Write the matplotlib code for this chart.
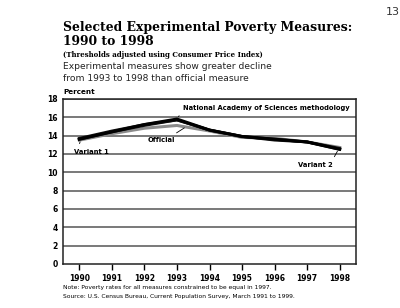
import matplotlib
matplotlib.use("Agg")
from matplotlib import pyplot as plt

# data (percent)
years = [1990, 1991, 1992, 1993, 1994, 1995, 1996, 1997, 1998]
official = [13.5, 14.2, 14.8, 15.1, 14.5, 13.8, 13.7, 13.3, 12.7]
nas = [13.6, 14.4, 15.2, 15.8, 14.6, 13.9, 13.6, 13.3, 12.5]
variant1 = [13.7, 14.5, 15.2, 15.7, 14.6, 13.9, 13.6, 13.3, 12.5]
variant2 = [13.6, 14.4, 15.1, 15.7, 14.6, 13.9, 13.5, 13.3, 12.6]
y_ticks = [0, 2, 4, 6, 8, 10, 12, 14, 16, 18]

fig = plt.figure(figsize=(4.0, 3.08), dpi=100)
ax = fig.add_axes([0.1575, 0.143, 0.7325, 0.536])

# grid lines
for t in y_ticks[1:]:
    ax.axhline(t, color='#555555', lw=1.1, zorder=1)

# series
ax.plot(years, official, color='#8a8a8a', lw=2.2, zorder=2)
ax.plot(years, variant1, color='#111111', lw=2.0, zorder=3)
ax.plot(years, variant2, color='#111111', lw=2.0, zorder=3)
ax.plot(years, nas, color='black', lw=2.2, zorder=4)

ax.set_xlim(1989.5, 1998.5)
ax.set_ylim(0, 18)
ax.set_yticks(y_ticks)
ax.set_yticklabels([str(t) for t in y_ticks], fontsize=5.5, fontweight='bold')
ax.set_xticks(years)
ax.set_xticklabels([str(y) for y in years], fontsize=5.5, fontweight='bold')
ax.tick_params(axis='y', length=0, pad=4)
ax.tick_params(axis='x', length=4, width=1, direction='out', pad=3)
for s in ['left', 'right', 'top', 'bottom']:
    ax.spines[s].set_color('#222222')
    ax.spines[s].set_linewidth(1.1)

# labels with leader lines
lab = dict(fontsize=4.9, fontweight='bold', color='black')
ax.annotate('National Academy of Sciences methodology', xy=(1993.0, nas[3]),
            xytext=(1993.2, 17.0), ha='left', va='center',
            arrowprops=dict(arrowstyle='-', color='black', lw=0.6, relpos=(0, 0.3)), **lab)
ax.annotate('Official', xy=(1993.3, 15.0), xytext=(1992.95, 13.5),
            ha='right', va='center',
            arrowprops=dict(arrowstyle='-', color='black', lw=0.6, relpos=(0.8, 1)), **lab)
ax.annotate('Variant 1', xy=(1990.05, 13.6), xytext=(1989.85, 12.2),
            ha='left', va='center',
            arrowprops=dict(arrowstyle='-', color='black', lw=0.6, relpos=(0.1, 1)), **lab)
ax.annotate('Variant 2', xy=(1997.97, 12.55), xytext=(1997.8, 10.8),
            ha='right', va='center',
            arrowprops=dict(arrowstyle='-', color='black', lw=0.6, relpos=(0.95, 1)), **lab)

# titles
fig.text(0.158, 0.888, 'Selected Experimental Poverty Measures:', fontsize=8.9,
         fontweight='bold', family='DejaVu Serif', va='bottom')
fig.text(0.158, 0.843, '1990 to 1998', fontsize=8.9, fontweight='bold',
         family='DejaVu Serif', va='bottom')
fig.text(0.158, 0.81, '(Thresholds adjusted using Consumer Price Index)', fontsize=5.0,
         fontweight='bold', family='DejaVu Serif', va='bottom')
fig.text(0.158, 0.77, 'Experimental measures show greater decline', fontsize=6.6,
         color='#222222', va='bottom')
fig.text(0.158, 0.73, 'from 1993 to 1998 than official measure', fontsize=6.6,
         color='#222222', va='bottom')
fig.text(0.158, 0.69, 'Percent', fontsize=5.2, fontweight='bold', va='bottom')
fig.text(0.965, 0.96, '13', fontsize=8, color='#333333', va='center')

fig.text(0.158, 0.058, 'Note: Poverty rates for all measures constrained to be equal in 1997.',
         fontsize=4.3, va='bottom')
fig.text(0.158, 0.03, 'Source: U.S. Census Bureau, Current Population Survey, March 1991 to 1999.',
         fontsize=4.3, va='bottom')

fig.savefig('out.png', dpi=100)
